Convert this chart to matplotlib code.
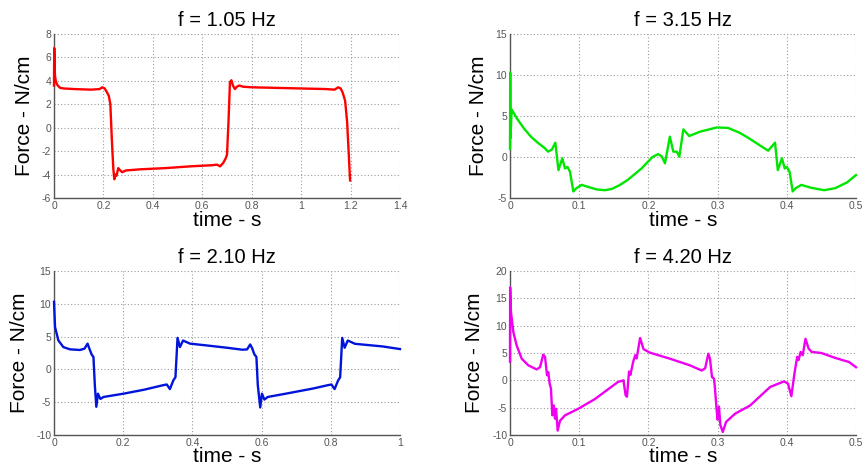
import matplotlib
matplotlib.use("Agg")
import matplotlib.pyplot as plt
from matplotlib.ticker import FuncFormatter

plt.rcParams['font.family'] = ['Liberation Sans', 'DejaVu Sans']

# ---------------- data ----------------
titles = ["f = 1.05 Hz", "f = 3.15 Hz", "f = 2.10 Hz", "f = 4.20 Hz"]
colors = ["#ff0000", "#00e600", "#0014dc", "#f000f0"]

t_105 = [0, 0.001, 0.004, 0.008, 0.015, 0.025, 0.04, 0.08, 0.15, 0.185, 0.195, 0.205,
         0.215, 0.222, 0.228, 0.234, 0.240, 0.244, 0.248, 0.253, 0.26, 0.266, 0.276,
         0.29, 0.35, 0.45, 0.55, 0.64, 0.66, 0.672, 0.685, 0.695, 0.700, 0.706, 0.712,
         0.718, 0.724, 0.732, 0.740, 0.750, 0.765, 0.8, 0.9, 1.0, 1.1, 1.135, 1.15,
         1.16, 1.168, 1.178, 1.186, 1.192, 1.198]
f_105 = [3.6, 6.8, 4.4, 3.9, 3.6, 3.4, 3.35, 3.3, 3.25, 3.3, 3.45, 3.35,
         3.0, 2.7, 2.0, -1.0, -3.5, -4.4, -4.0, -4.1, -3.45, -3.6, -3.8,
         -3.65, -3.55, -3.45, -3.3, -3.2, -3.15, -3.3, -3.0, -2.6, -2.3, 0.5, 3.9,
         4.05, 3.6, 3.3, 3.5, 3.6, 3.5, 3.45, 3.4, 3.35, 3.3, 3.25, 3.45,
         3.35, 3.0, 2.3, 0.5, -2.0, -4.5]

t_315 = [0, 0.0003, 0.0008, 0.0024, 0.01, 0.02, 0.03, 0.04, 0.05, 0.055, 0.0605,
         0.0655, 0.070, 0.0756, 0.0795, 0.083, 0.0867, 0.0915, 0.096, 0.1036, 0.115,
         0.125, 0.137, 0.147, 0.158, 0.17, 0.18, 0.19, 0.198, 0.206, 0.214, 0.219,
         0.224, 0.231, 0.236, 0.241, 0.2447, 0.2505, 0.259, 0.2746, 0.287, 0.2987,
         0.315, 0.332, 0.345, 0.3565, 0.366, 0.373, 0.383, 0.387, 0.393, 0.397, 0.400,
         0.404, 0.4085, 0.413, 0.421, 0.435, 0.454, 0.47, 0.487, 0.5]
f_315 = [1.0, 10.3, 2.3, 5.8, 4.7, 3.5, 2.5, 1.75, 1.1, 0.65, 0.9,
         1.75, -1.6, -0.16, -1.4, -1.2, -1.8, -4.2, -3.8, -3.4, -3.7,
         -3.95, -4.05, -3.9, -3.45, -2.8, -2.1, -1.4, -0.7, 0.0, 0.35, 0.1,
         -0.77, 2.48, 0.65, 0.65, 0.04, 3.37, 2.56, 3.09, 3.35, 3.6,
         3.55, 2.95, 2.3, 1.67, 1.15, 0.77, 1.75, -1.6, -0.16, -1.4, -1.2,
         -1.8, -4.2, -3.8, -3.4, -3.75, -4.05, -3.8, -3.1, -2.2]

t_210 = [0, 0.003, 0.0125, 0.027, 0.046, 0.075, 0.088, 0.097, 0.102, 0.109, 0.114,
         0.118, 0.1223, 0.127, 0.134, 0.1435, 0.201, 0.26, 0.316, 0.326, 0.335, 0.345,
         0.351, 0.357, 0.364, 0.373, 0.393, 0.45, 0.50, 0.545, 0.558, 0.567, 0.573,
         0.579, 0.585, 0.589, 0.596, 0.601, 0.608, 0.618, 0.67, 0.75, 0.792, 0.802,
         0.811, 0.821, 0.827, 0.833, 0.840, 0.849, 0.87, 0.95, 1.0]
f_210 = [10.3, 6.46, 4.43, 3.4, 3.06, 2.96, 3.16, 3.93, 3.2, 2.25, 1.9,
         -2.4, -5.7, -3.7, -4.5, -4.2, -3.7, -3.1, -2.4, -2.3, -3.0, -1.66,
         -1.2, 4.8, 3.4, 4.4, 3.93, 3.6, 3.3, 3.0, 3.05, 3.8, 3.2,
         2.3, 1.9, -2.4, -5.8, -3.7, -4.6, -4.2, -3.7, -2.9, -2.4, -2.3,
         -3.0, -1.7, -1.2, 4.8, 3.3, 4.4, 3.9, 3.5, 3.1]

t_420 = [0, 0.0002, 0.0014, 0.0048, 0.0096, 0.0169, 0.0265, 0.0385, 0.0434, 0.048,
         0.0506, 0.0535, 0.0554, 0.0573, 0.0592, 0.0612, 0.0631, 0.065, 0.0665, 0.0689,
         0.0722, 0.0795, 0.0987, 0.123, 0.156, 0.164, 0.167, 0.169, 0.172, 0.174, 0.176,
         0.178, 0.181, 0.183, 0.188, 0.193, 0.2023, 0.231, 0.2601, 0.277, 0.282, 0.2866,
         0.289, 0.2919, 0.2948, 0.296, 0.2986, 0.300, 0.302, 0.304, 0.3075, 0.3123,
         0.3253, 0.347, 0.376, 0.396, 0.4017, 0.4066, 0.411, 0.415, 0.417, 0.42, 0.423,
         0.427, 0.4316, 0.436, 0.45, 0.47, 0.49, 0.5]
f_420 = [3.4, 17.0, 12.5, 8.84, 6.4, 3.96, 2.74, 2.0, 2.4, 4.7,
         4.3, 0.92, 1.5, -0.6, -1.5, -6.4, -4.6, -7.0, -5.2, -9.2,
         -7.4, -6.4, -5.2, -3.4, -0.3, 0.0, -2.7, -3.0, 1.6, 1.0, 2.2,
         3.4, 4.6, 4.0, 7.74, 5.7, 5.06, 3.96, 2.74, 1.8, 2.2, 4.87,
         3.96, 0.6, 0.3, -1.16, -5.4, -7.2, -4.8, -8.2, -9.45, -7.6,
         -6.1, -4.6, -1.2, -0.2, -0.6, -2.9, 1.2, 4.3, 3.7, 5.2, 4.6,
         7.6, 5.8, 5.2, 5.0, 4.1, 3.35, 2.4]

series_t = [t_105, t_315, t_210, t_420]
series_f = [f_105, f_315, f_210, f_420]
xlims = [(0, 1.4), (0, 0.5), (0, 1.0), (0, 0.5)]
ylims = [(-6, 8), (-5, 15), (-10, 15), (-10, 20)]
xticks = [[0, 0.2, 0.4, 0.6, 0.8, 1.0, 1.2, 1.4],
          [0, 0.1, 0.2, 0.3, 0.4, 0.5],
          [0, 0.2, 0.4, 0.6, 0.8, 1.0],
          [0, 0.1, 0.2, 0.3, 0.4, 0.5]]
yticks = [[-6, -4, -2, 0, 2, 4, 6, 8],
          [-5, 0, 5, 10, 15],
          [-10, -5, 0, 5, 10, 15],
          [-10, -5, 0, 5, 10, 15, 20]]
xlabel = "time - s"
ylabel = "Force - N/cm"

# ---------------- layout ----------------
W, H = 864, 474
fig = plt.figure(figsize=(W / 100, H / 100), dpi=100)
boxes = [(54, 34), (510, 34), (54, 271), (510, 271)]  # left, top in px
aw, ah = 346, 164
ylab_off = [29, 32, 34, 35]

fmt = FuncFormatter(lambda v, p: ("%g" % v))

for i in range(4):
    l, t = boxes[i]
    ax = fig.add_axes([l / W, 1 - (t + ah) / H, aw / W, ah / H])
    ax.plot(series_t[i], series_f[i], color=colors[i], lw=1.7,
            solid_joinstyle='round', zorder=3, clip_on=False)
    ax.set_xlim(*xlims[i])
    ax.set_ylim(*ylims[i])
    ax.set_xticks(xticks[i])
    ax.set_yticks(yticks[i])
    ax.xaxis.set_major_formatter(fmt)
    ax.yaxis.set_major_formatter(fmt)
    ax.grid(True, linestyle=(0, (1, 2)), color="#9a9a9a", lw=0.8)
    for s in ["top", "right"]:
        ax.spines[s].set_visible(False)
    for s in ["left", "bottom"]:
        ax.spines[s].set_color("#555555")
        ax.spines[s].set_linewidth(1.0)
    ax.tick_params(length=0, labelsize=7.5, labelcolor="#555555", pad=2)
    ax.set_title(titles[i], fontsize=14.5, pad=6)
    xl = ax.set_xlabel(xlabel, fontsize=15)
    ax.xaxis.set_label_coords(0.5, -22 / ah)
    xl.set_va("center")
    yl = ax.set_ylabel(ylabel, fontsize=15)
    ax.yaxis.set_label_coords(-ylab_off[i] / aw, 0.5)
    yl.set_va("center")

fig.savefig("out.png", dpi=100)
